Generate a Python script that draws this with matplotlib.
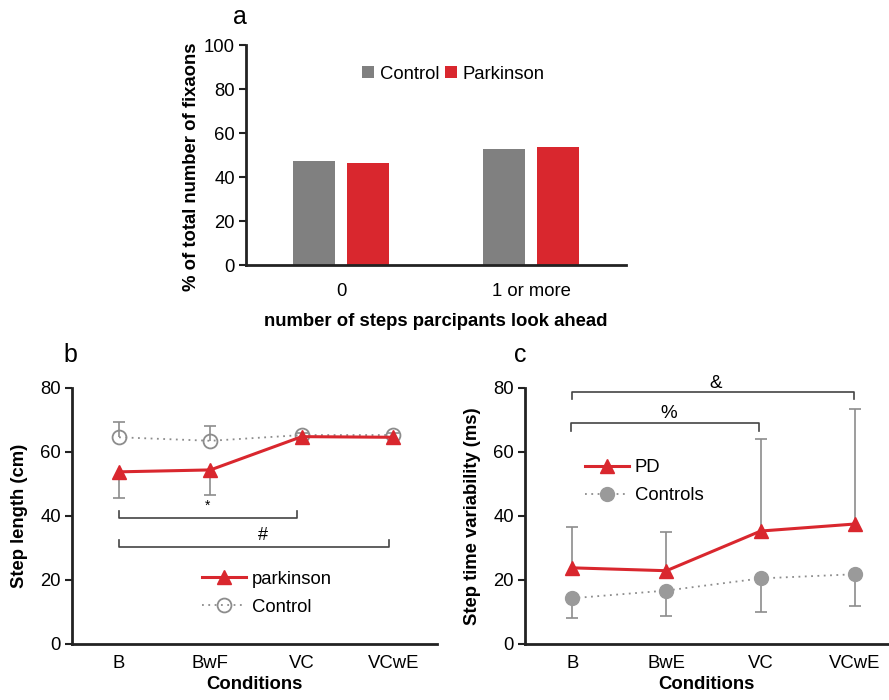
import matplotlib
matplotlib.use("Agg")
import matplotlib.pyplot as plt
import numpy as np

plt.rcParams['font.family'] = ['Liberation Sans', 'DejaVu Sans']

RED = '#d9272e'
GRAY_BAR = '#808080'
GRAY = '#8c8c8c'

# ---- Panel a data ----
a_categories = ['0', '1 or more']
a_control = [47.3, 52.7]
a_parkinson = [46.2, 53.6]
a_yticks = [0, 20, 40, 60, 80, 100]

# ---- Panel b data ----
b_conditions = ['B', 'BwF', 'VC', 'VCwE']
b_parkinson = [53.8, 54.4, 64.8, 64.6]
b_parkinson_err_low = [45.5, 46.6, 63.3, 62.5]
b_control = [64.6, 63.5, 65.3, 65.3]
b_control_err_high = [69.4, 68.1, 66.0, 66.0]
b_yticks = [0, 20, 40, 60, 80]
b_brackets = [  # (x_start, x_end, y, tick_y, label, label_x, label_y)
    (0, 1.95, 39.5, 41.6, '*', 0.97, 43.2),
    (0, 2.95, 30.2, 32.4, '#', 1.58, 34.0),
]

# ---- Panel c data ----
c_conditions = ['B', 'BwE', 'VC', 'VCwE']
c_pd = [23.8, 22.9, 35.3, 37.5]
c_pd_err_high = [36.7, 35.1, 64.1, 73.4]
c_controls = [14.3, 16.7, 20.5, 21.8]
c_controls_err_low = [8.2, 8.75, 9.9, 12.0]
c_yticks = [0, 20, 40, 60, 80]
c_brackets = [  # (x_start, x_end, y, tick_y, label, label_x, label_y)
    (-0.01, 1.98, 69.0, 66.7, '%', 1.02, 72.0),
    (0.0, 2.99, 78.6, 76.5, '&', 1.52, 81.3),
]

fig = plt.figure(figsize=(8.89, 7.0), dpi=100)

SPW = 2.0
TFS = 13.3
LFS = 13.3


def style_axes(ax):
    for s in ['top', 'right']:
        ax.spines[s].set_visible(False)
    ax.spines['left'].set_linewidth(SPW)
    ax.spines['bottom'].set_linewidth(SPW)
    ax.spines['left'].set_color('#222222')
    ax.spines['bottom'].set_color('#222222')
    ax.tick_params(axis='y', length=5, width=1.5, color='#222222', labelsize=TFS, pad=3)
    ax.tick_params(axis='x', length=0, labelsize=TFS, pad=8)


# ---------------- Panel a ----------------
axa = fig.add_axes([246/889, 1-265/700, (626-246)/889, 220/700])
xa = np.arange(len(a_categories))
bw = 0.224
off = 0.143
axa.bar(xa - off, a_control, width=bw, color=GRAY_BAR, label='Control')
axa.bar(xa + off, a_parkinson, width=bw, color=RED, label='Parkinson')
axa.set_xlim(-0.5, 1.5)
axa.set_ylim(0, 100)
axa.set_yticks(a_yticks)
axa.set_xticks(xa)
axa.set_xticklabels(a_categories)
style_axes(axa)
axa.tick_params(axis='x', pad=13)
axa.set_ylabel('% of total number of fixaons', fontsize=LFS, fontweight='bold', labelpad=4)
axa.yaxis.set_label_coords(-0.12, 0.445)
axa.set_xlabel('number of steps parcipants look ahead', fontsize=LFS, fontweight='bold', labelpad=9)
axa.legend(loc='center', bbox_to_anchor=(0.545, 0.868), ncol=2, frameon=False,
           fontsize=LFS, handlelength=0.65, handleheight=0.65, handletextpad=0.3,
           columnspacing=0.3, borderaxespad=0)
fig.text(240/889, 1-17/700, 'a', fontsize=18, ha='center', va='center')

# ---------------- Panel b ----------------
axb = fig.add_axes([72/889, 1-644/700, (437-72)/889, 256/700])
xb = np.arange(len(b_conditions))
# error bars
axb.vlines(xb, b_parkinson_err_low, b_parkinson, color=GRAY, lw=1.2, zorder=1)
axb.plot(xb, b_parkinson_err_low, linestyle='none', marker='_', markersize=9, mew=1.2, color=GRAY, zorder=1)
axb.vlines(xb, b_control, b_control_err_high, color=GRAY, lw=1.2, zorder=1)
axb.plot(xb, b_control_err_high, linestyle='none', marker='_', markersize=9, mew=1.2, color=GRAY, zorder=1)
axb.plot(xb, b_control, linestyle=(0, (1, 2.5)), color=GRAY, lw=1.3, marker='o', markersize=10,
         mfc='none', mec=GRAY, mew=1.3, label='Control', zorder=2)
axb.plot(xb, b_parkinson, color=RED, lw=2.2, marker='^', markersize=10, mfc=RED, mec=RED,
         label='parkinson', zorder=3)
for x0, x1, y, ty, lab, lx, ly in b_brackets:
    axb.plot([x0, x0, x1, x1], [ty, y, y, ty], color='#444444', lw=1.2, clip_on=False)
    axb.text(lx, ly, lab, fontsize=10 if lab == '*' else 13, ha='center', va='center')
axb.set_xlim(-0.515, 3.48)
axb.set_ylim(0, 80)
axb.set_yticks(b_yticks)
axb.set_xticks(xb)
axb.set_xticklabels(b_conditions)
style_axes(axb)
axb.set_ylabel('Step length (cm)', fontsize=LFS, fontweight='bold', labelpad=9)
axb.set_xlabel('Conditions', fontsize=LFS, fontweight='bold', labelpad=3)
hb, lb = axb.get_legend_handles_labels()
axb.legend(hb[::-1], lb[::-1], loc='upper left', bbox_to_anchor=(0.335, 0.315), frameon=False,
           fontsize=LFS, handlelength=2.4, handletextpad=0.3, labelspacing=0.6, borderaxespad=0)
fig.text(70/889, 1-355/700, 'b', fontsize=18, ha='center', va='center')

# ---------------- Panel c ----------------
axc = fig.add_axes([525/889, 1-644/700, (888-525)/889, 256/700])
xc = np.arange(len(c_conditions))
axc.vlines(xc, c_pd, c_pd_err_high, color=GRAY, lw=1.2, zorder=1)
axc.plot(xc, c_pd_err_high, linestyle='none', marker='_', markersize=9, mew=1.2, color=GRAY, zorder=1)
axc.vlines(xc, c_controls_err_low, c_controls, color=GRAY, lw=1.2, zorder=1)
axc.plot(xc, c_controls_err_low, linestyle='none', marker='_', markersize=9, mew=1.2, color=GRAY, zorder=1)
axc.plot(xc, c_controls, linestyle=(0, (1, 2.5)), color=GRAY, lw=1.3, marker='o', markersize=10,
         mfc='#9a9a9a', mec='#9a9a9a', label='Controls', zorder=2)
axc.plot(xc, c_pd, color=RED, lw=2.2, marker='^', markersize=10, mfc=RED, mec=RED,
         label='PD', zorder=3)
for x0, x1, y, ty, lab, lx, ly in c_brackets:
    axc.plot([x0, x0, x1, x1], [ty, y, y, ty], color='#444444', lw=1.2, clip_on=False)
    axc.text(lx, ly, lab, fontsize=13.5, ha='center', va='center', clip_on=False)
axc.set_xlim(-0.5, 3.35)
axc.set_ylim(0, 80)
axc.set_yticks(c_yticks)
axc.set_xticks(xc)
axc.set_xticklabels(c_conditions)
style_axes(axc)
axc.set_ylabel('Step time variability (ms)', fontsize=LFS, fontweight='bold', labelpad=9)
axc.set_xlabel('Conditions', fontsize=LFS, fontweight='bold', labelpad=3)
hc, lc = axc.get_legend_handles_labels()
axc.legend(hc[::-1], lc[::-1], loc='upper left', bbox_to_anchor=(0.145, 0.75), frameon=False,
           fontsize=LFS, handlelength=2.4, handletextpad=0.3, labelspacing=0.6, borderaxespad=0)
fig.text(520/889, 1-355/700, 'c', fontsize=18, ha='center', va='center')

fig.savefig('out.png', dpi=100)
